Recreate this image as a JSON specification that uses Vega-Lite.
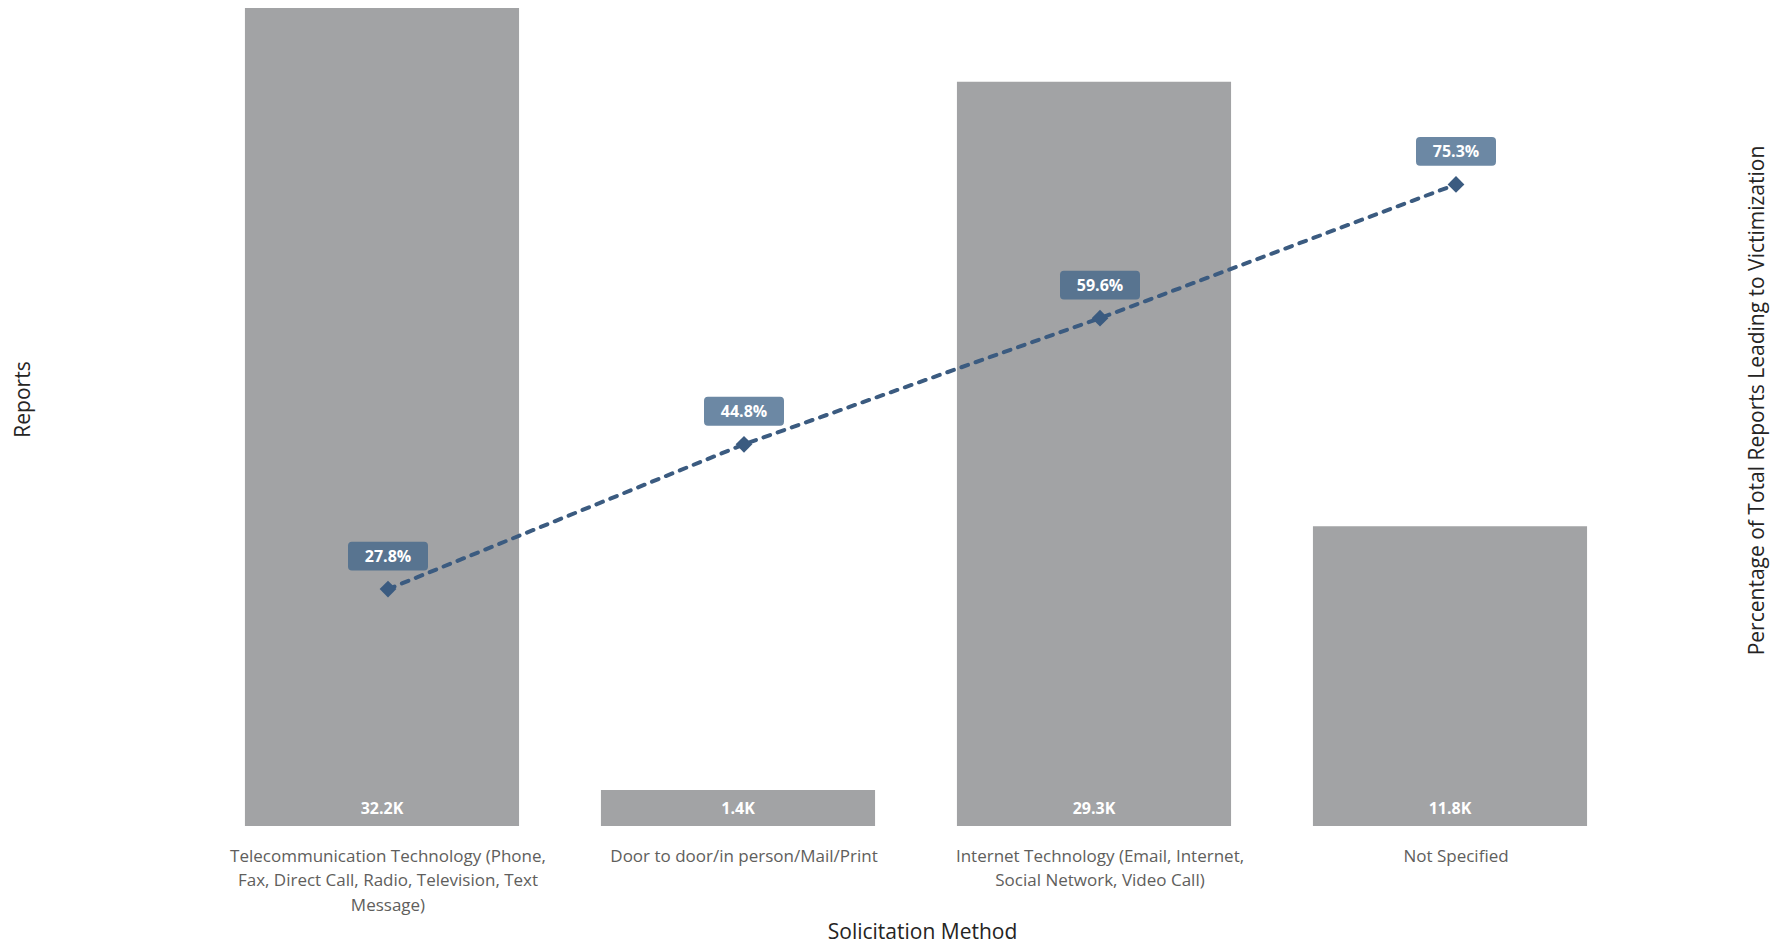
{
  "$schema": "https://vega.github.io/schema/vega-lite/v6.json",
  "autosize": "none",
  "width": 1424,
  "height": 818,
  "padding": {"left": 204, "top": 8, "right": 159, "bottom": 120},
  "background": "white",
  "config": {
    "view": {"stroke": null},
    "font": "Open Sans"
  },
  "data": {
    "values": [
      {"method": "Telecommunication Technology (Phone, Fax, Direct Call, Radio, Television, Text Message)", "reports": 32200, "pct": 0.278},
      {"method": "Door to door/in person/Mail/Print", "reports": 1420, "pct": 0.448},
      {"method": "Internet Technology (Email, Internet, Social Network, Video Call)", "reports": 29300, "pct": 0.596},
      {"method": "Not Specified", "reports": 11800, "pct": 0.753}
    ]
  },
  "transform": [
    {"calculate": "format(datum.reports / 1000, '.1f') + 'K'", "as": "reportsLabel"},
    {"calculate": "format(datum.pct, '.1%')", "as": "pctLabel"}
  ],
  "encoding": {
    "x": {
      "field": "method",
      "type": "nominal",
      "sort": null,
      "scale": {"paddingInner": 0.23, "paddingOuter": 0.115},
      "axis": {
        "title": "Solicitation Method",
        "titleFontSize": 21,
        "titleFontWeight": "normal",
        "titleColor": "#252423",
        "titleBaseline": "middle",
        "titleX": 718,
        "titleY": 106,
        "labelAngle": 0,
        "labelFontSize": 17,
        "labelColor": "#605e5c",
        "labelLimit": 0,
        "labelLineHeight": 24.5,
        "labelPadding": 22,
        "labelOffset": 6,
        "domain": false,
        "ticks": false,
        "tickSize": 0,
        "labelExpr": "datum.value == 'Telecommunication Technology (Phone, Fax, Direct Call, Radio, Television, Text Message)' ? ['Telecommunication Technology (Phone,', 'Fax, Direct Call, Radio, Television, Text', 'Message)'] : datum.value == 'Internet Technology (Email, Internet, Social Network, Video Call)' ? ['Internet Technology (Email, Internet,', 'Social Network, Video Call)'] : datum.label"
      }
    }
  },
  "layer": [
    {
      "layer": [
        {
          "mark": {"type": "bar", "color": "#a2a3a5"},
          "encoding": {
            "y": {
              "field": "reports",
              "type": "quantitative",
              "scale": {"domain": [0, 32200], "nice": false},
              "axis": {
                "title": "Reports",
                "titleFontSize": 21,
                "titleFontWeight": "normal",
                "titleColor": "#252423",
                "titleBaseline": "middle",
                "titleX": -181,
                "titleY": 391,
                "labels": false,
                "ticks": false,
                "domain": false,
                "grid": false
              }
            }
          }
        },
        {
          "mark": {"type": "text", "color": "white", "fontWeight": "bold", "fontSize": 16, "baseline": "middle", "yOffset": -17},
          "encoding": {
            "y": {"datum": 0, "type": "quantitative"},
            "text": {"field": "reportsLabel"}
          }
        }
      ]
    },
    {
      "layer": [
        {
          "mark": {"type": "line", "color": "#3b5b80", "strokeWidth": 4, "strokeDash": [7, 8], "strokeCap": "round", "xOffset": 6},
          "encoding": {
            "y": {
              "field": "pct",
              "type": "quantitative",
              "scale": {"domain": [0, 0.96], "nice": false},
              "axis": {
                "orient": "right",
                "title": "Percentage of Total Reports Leading to Victimization",
                "titleFontSize": 21,
                "titleFontWeight": "normal",
                "titleColor": "#252423",
                "titleAngle": -90,
                "titleBaseline": "middle",
                "titleX": 129,
                "titleY": 392,
                "labels": false,
                "ticks": false,
                "domain": false,
                "grid": false
              }
            }
          }
        },
        {
          "mark": {"type": "point", "shape": "diamond", "filled": true, "size": 280, "color": "#3b5b80", "opacity": 1, "xOffset": 6},
          "encoding": {
            "y": {"field": "pct", "type": "quantitative"}
          }
        },
        {
          "mark": {
            "type": "point",
            "filled": true,
            "size": 6400,
            "color": "#43668b",
            "opacity": 0.78,
            "xOffset": 6,
            "yOffset": -33,
            "shape": "M -0.9 -0.36 L 0.9 -0.36 Q 1 -0.36 1 -0.26 L 1 0.26 Q 1 0.36 0.9 0.36 L -0.9 0.36 Q -1 0.36 -1 0.26 L -1 -0.26 Q -1 -0.36 -0.9 -0.36 Z"
          },
          "encoding": {
            "y": {"field": "pct", "type": "quantitative"}
          }
        },
        {
          "mark": {"type": "text", "color": "white", "fontWeight": "bold", "fontSize": 16, "baseline": "middle", "xOffset": 6, "yOffset": -32},
          "encoding": {
            "y": {"field": "pct", "type": "quantitative"},
            "text": {"field": "pctLabel"}
          }
        }
      ]
    }
  ],
  "resolve": {"scale": {"y": "independent"}}
}
